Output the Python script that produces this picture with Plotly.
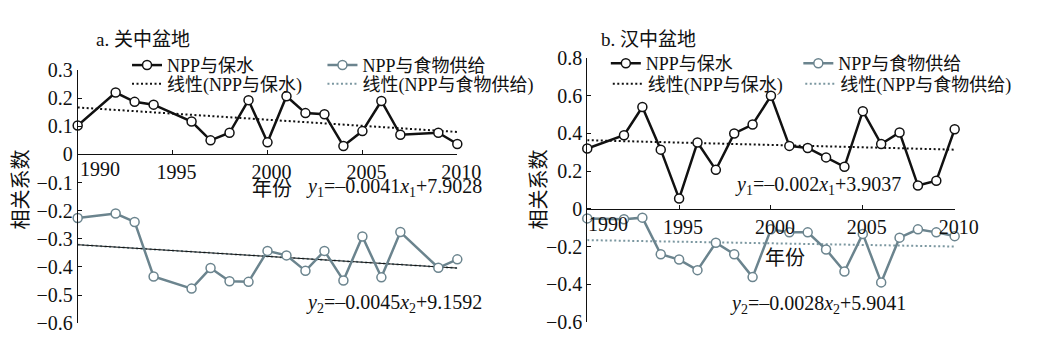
import plotly.graph_objects as go

# ---------------- data ----------------
years_a = [1990, 1992, 1993, 1994, 1996, 1997, 1998, 1999, 2000, 2001,
           2002, 2003, 2004, 2005, 2006, 2007, 2009, 2010]
water_a = [0.103, 0.22, 0.187, 0.177, 0.117, 0.05, 0.077, 0.193, 0.043, 0.207,
           0.147, 0.143, 0.03, 0.083, 0.19, 0.07, 0.077, 0.037]
food_a = [-0.226, -0.21, -0.24, -0.434, -0.477, -0.404, -0.451, -0.453, -0.343, -0.359,
          -0.414, -0.343, -0.448, -0.292, -0.437, -0.276, -0.403, -0.373]

years_b = [1990, 1992, 1993, 1994, 1995, 1996, 1997, 1998, 1999, 2000,
           2001, 2002, 2003, 2004, 2005, 2006, 2007, 2008, 2009, 2010]
water_b = [0.32, 0.39, 0.54, 0.314, 0.055, 0.352, 0.207, 0.40, 0.447, 0.599,
           0.334, 0.323, 0.273, 0.223, 0.518, 0.344, 0.405, 0.124, 0.149, 0.422]
food_b = [-0.05, -0.055, -0.046, -0.24, -0.268, -0.324, -0.179, -0.24, -0.361, -0.108,
          -0.124, -0.124, -0.215, -0.331, -0.132, -0.389, -0.152, -0.108, -0.124, -0.144]

trend_years = [1990, 2010]
trend_a_water = [0.167, 0.08]
trend_a_food = [-0.321, -0.404]
trend_b_water = [0.364, 0.314]
trend_b_food = [-0.165, -0.199]

xticks = [1995, 2000, 2005, 2010]
first_tick_label = "1990"

name_water = "NPP与保水"
name_food = "NPP与食物供给"
name_trend_water = "线性(NPP与保水)"
name_trend_food = "线性(NPP与食物供给)"
titles = ["a. 关中盆地", "b. 汉中盆地"]
ylabel = "相关系数"
xlabel = "年份"
eq_a1 = "<i>y</i><sub>1</sub>=–0.0041<i>x</i><sub>1</sub>+7.9028"
eq_a2 = "<i>y</i><sub>2</sub>=–0.0045<i>x</i><sub>2</sub>+9.1592"
eq_b1 = "<i>y</i><sub>1</sub>=–0.002<i>x</i><sub>1</sub>+3.9037"
eq_b2 = "<i>y</i><sub>2</sub>=–0.0028<i>x</i><sub>2</sub>+5.9041"

# ---------------- layout geometry (pixels) ----------------
W, H = 1050, 352
FONT = "Liberation Serif, Times New Roman, Noto Sans CJK SC, serif"
BLACK = "#111111"
GRAY = "#6b848e"
GRAY_T = "#7b97a0"

panels = [
    dict(x0=79.5, x1=468, ytop=63, ybot=333, yr=[-0.6, 0.3], dt=0.1),
    dict(x0=601, x1=977, ytop=50, ybot=332, yr=[-0.6, 0.8], dt=0.2),
]

fig = go.Figure()

def px_x(p):
    return p / W

def px_y(p):
    return 1 - p / H

def legend_key(n):
    return "legend" if n == 0 else f"legend{n + 1}"

series = [
    (years_a, water_a, food_a, trend_a_water, trend_a_food),
    (years_b, water_b, food_b, trend_b_water, trend_b_food),
]

for i, (pn, (yrs, wv, fv, tw, tf)) in enumerate(zip(panels, series)):
    xa = "x" if i == 0 else "x2"
    ya = "y" if i == 0 else "y2"
    lg = [legend_key(4 * i + k) for k in range(4)]
    # trend lines
    fig.add_trace(go.Scatter(x=trend_years, y=tw, mode="lines", name=name_trend_water,
                             line=dict(color=BLACK, width=2, dash="2px,2.5px"),
                             xaxis=xa, yaxis=ya, legend=lg[2], cliponaxis=False))
    fig.add_trace(go.Scatter(x=trend_years, y=tf, mode="lines", name=name_trend_food,
                             line=dict(color=GRAY_T, width=2, dash="2px,2.5px"),
                             xaxis=xa, yaxis=ya, legend=lg[3], cliponaxis=False))
    if i == 0:
        fig.add_trace(go.Scatter(x=trend_years, y=tf, mode="lines", showlegend=False,
                                 line=dict(color=BLACK, width=1),
                                 xaxis=xa, yaxis=ya, cliponaxis=False))
    # data series
    fig.add_trace(go.Scatter(x=yrs, y=wv, mode="lines+markers", name=name_water,
                             line=dict(color=BLACK, width=2.5),
                             marker=dict(symbol="circle", size=9, color="white",
                                         line=dict(color=BLACK, width=1.5)),
                             xaxis=xa, yaxis=ya, legend=lg[0], cliponaxis=False))
    fig.add_trace(go.Scatter(x=yrs, y=fv, mode="lines+markers", name=name_food,
                             line=dict(color=GRAY, width=2.5),
                             marker=dict(symbol="circle", size=9, color="white",
                                         line=dict(color=GRAY, width=1.5)),
                             xaxis=xa, yaxis=ya, legend=lg[1], cliponaxis=False))

    yd = [px_y(pn["ybot"]), px_y(pn["ytop"])]
    zero_pos = yd[0] + (0 - pn["yr"][0]) / (pn["yr"][1] - pn["yr"][0]) * (yd[1] - yd[0])
    xkey = "xaxis" if i == 0 else "xaxis2"
    ykey = "yaxis" if i == 0 else "yaxis2"
    fig.update_layout(**{
        xkey: dict(domain=[px_x(pn["x0"]), px_x(pn["x1"])], range=[1990, 2010],
                   anchor="free", position=zero_pos, showline=True, linecolor=BLACK,
                   linewidth=1, ticks="inside", ticklen=4, tickcolor=BLACK,
                   tickvals=xticks, showgrid=False, zeroline=False,
                   ticklabelshift=4,
                   tickfont=dict(family=FONT, size=20, color=BLACK)),
        ykey: dict(domain=yd, range=pn["yr"], anchor=xa, showline=True,
                   linecolor=BLACK, linewidth=1, ticks="inside", ticklen=4,
                   tickcolor=BLACK, dtick=pn["dt"], tick0=0, showgrid=False,
                   zeroline=False,
                   tickfont=dict(family=FONT, size=20, color=BLACK)),
    })
    # 1990 label (offset as in the reference)
    fig.add_annotation(x=1991.15, y=0, xref=xa, yref=ya, text=first_tick_label,
                       showarrow=False, yanchor="top", yshift=-2,
                       font=dict(family=FONT, size=20, color=BLACK))

# legends: one legend per entry; (text start x, row centre y) in pixels
leg_pos = [
    (170, 58), (370, 58), (170, 78), (370, 78),
    (660, 56), (857, 56), (662, 78), (859, 78),
]
for k, (lx, ly) in enumerate(leg_pos):
    fig.update_layout(**{legend_key(k): dict(x=px_x(lx - 40), y=px_y(ly), xanchor="left",
                                             yanchor="middle",
                                             bgcolor="rgba(0,0,0,0)", borderwidth=0,
                                             font=dict(family=FONT, size=18, color=BLACK),
                                             itemwidth=30, tracegroupgap=0)})

# text annotations
texts = [
    (titles[0], 146, 30, 19, 0),
    (titles[1], 664, 30, 19, 0),
    (ylabel, 22, 190, 20, -90),
    (ylabel, 552, 190, 20, -90),
    (xlabel, 278, 190, 20, 0),
    (xlabel, 803, 263, 20, 0),
    (eq_a1, 403, 188, 20, 0),
    (eq_a2, 403, 312, 20, 0),
    (eq_b1, 837, 186, 20, 0),
    (eq_b2, 837, 313, 20, 0),
]
for t, tx, ty, fs, ang in texts:
    fig.add_annotation(x=px_x(tx), y=px_y(ty), xref="paper", yref="paper", text=t,
                       showarrow=False, xanchor="center", yanchor="middle", textangle=ang,
                       font=dict(family=FONT, size=fs, color=BLACK))

fig.update_layout(width=W, height=H, margin=dict(l=0, r=0, t=0, b=0),
                  paper_bgcolor="white", plot_bgcolor="white", showlegend=True)

fig.write_html("out.html")
